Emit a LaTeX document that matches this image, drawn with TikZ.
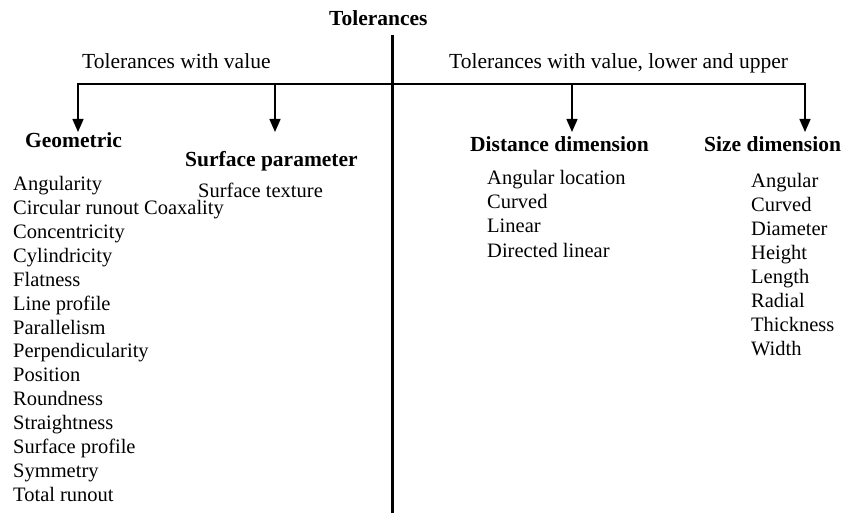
\documentclass[tikz,border=0pt]{standalone}
\usepackage{fontspec}
\setmainfont{Liberation Serif}
\usetikzlibrary{arrows.meta}
\begin{document}
\begin{tikzpicture}[x=1pt,y=-1pt,
  item/.style={anchor=base west,inner sep=0pt,font=\fontsize{20.5}{24}\selectfont},
  head/.style={anchor=base west,inner sep=0pt,font=\fontsize{21.5}{26}\selectfont\bfseries},
  branch/.style={anchor=base west,inner sep=0pt,font=\fontsize{21.5}{26}\selectfont},
  feed/.style={line width=1.5pt,-{Triangle[width=11pt,length=13pt]}},
  rail/.style={line width=1.5pt}]
\useasboundingbox (0,0) rectangle (843,513);

% title and the central divider
\node[head] (title) at (329,26) {Tolerances};
\coordinate (divtop) at (392,35);
\coordinate (divbot) at (392,513);
\draw[line width=3pt] (divtop) -- (divbot);

% branch labels
\node[branch] (withval) at (82,69) {Tolerances with value};
\node[branch] (withlu) at (449,69) {Tolerances with value, lower and upper};

% horizontal rail and its drops
\coordinate (r1) at (78,84);
\coordinate (r2) at (275,84);
\coordinate (r3) at (572,84);
\coordinate (r4) at (805,84);
\coordinate (t1) at (78,132);
\coordinate (t2) at (275,132);
\coordinate (t3) at (572,132);
\coordinate (t4) at (805,132);
\draw[rail] ([xshift=-0.75pt]r1) -- ([xshift=0.75pt]r4);
\draw[feed] (r1) -- (t1);
\draw[feed] (r2) -- (t2);
\draw[feed] (r3) -- (t3);
\draw[feed] (r4) -- (t4);

% category headings
\node[head] (geo) at (25,148) {Geometric};
\node[head] (surf) at (185,167) {Surface parameter};
\node[head] (dist) at (470,152) {Distance dimension};
\node[head] (size) at (704,152) {Size dimension};

% geometric tolerances
\foreach \t [count=\i from 0] in {Angularity,Circular runout Coaxality,Concentricity,Cylindricity,Flatness,Line profile,Parallelism,Perpendicularity,Position,Roundness,Straightness,Surface profile,Symmetry,Total runout}
  \node[item] (g\i) at (13,191+23.85*\i) {\t};

% surface parameter
\node[item] (st) at (198,197) {Surface texture};

% distance dimension
\foreach \t [count=\i from 0] in {Angular location,Curved,Linear,Directed linear}
  \node[item] (d\i) at (487,185+24*\i) {\t};

% size dimension
\foreach \t [count=\i from 0] in {Angular,Curved,Diameter,Height,Length,Radial,Thickness,Width}
  \node[item] (s\i) at (751,188+23.86*\i) {\t};
\end{tikzpicture}
\end{document}
